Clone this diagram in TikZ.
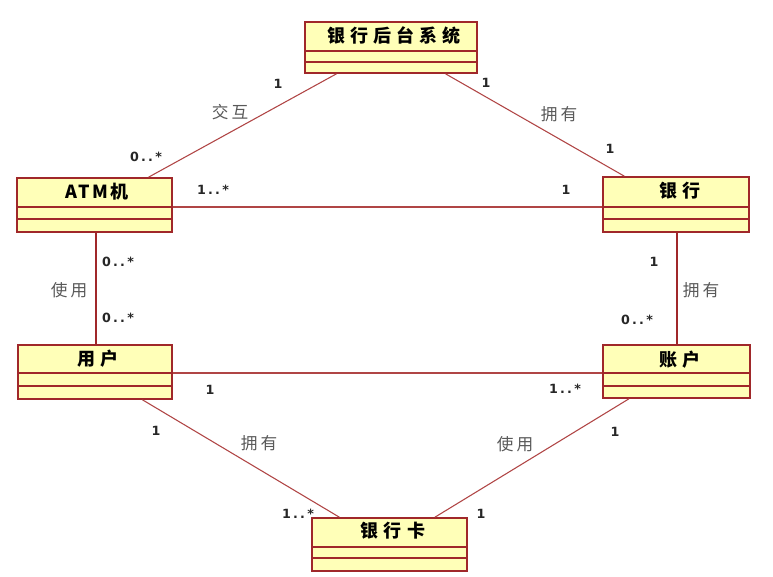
\documentclass[tikz,border=0pt]{standalone}
\usepackage{fontspec}
\usetikzlibrary{calc,fit}
\newfontfamily\titlefont[LetterSpace=28]{Noto Sans CJK SC}
\newfontfamily\titlefontB[LetterSpace=12]{Noto Sans CJK SC}
\newfontfamily\labfont[LetterSpace=18]{Noto Sans CJK SC}
\newfontfamily\mulfont[LetterSpace=18]{DejaVu Sans}
\definecolor{boxred}{HTML}{A0282A}
\definecolor{linered}{HTML}{B04545}
\definecolor{boxfill}{HTML}{FFFFB8}
\begin{document}
\begin{tikzpicture}[x=0.75pt,y=-0.75pt,
 cls/.style={draw=boxred, fill=boxfill, line width=1.2pt, inner sep=0pt},
 ttl/.style={font=\titlefont\bfseries\fontsize{13.5}{15}\selectfont, text=black, inner sep=0pt},
 comp/.style={draw=boxred, line width=0.9pt},
 assoc/.style={draw=linered, line width=0.8pt},
 assocv/.style={draw=boxred, line width=1.4pt},
 mult/.style={font=\mulfont\bfseries\fontsize{9.5}{11}\selectfont, text=black!85, inner sep=0pt},
 role/.style={font=\labfont\fontsize{12.5}{14}\selectfont, text=black!65, inner sep=0pt}]
\fill[white] (0,0) rectangle (773,577);
\useasboundingbox (0,0) rectangle (773,577);

\coordinate (c1) at (0,207);
\coordinate (c2) at (0,373);

% class boxes
\node[cls, fit={(305,22) (477,73)}] (sys) {};
\node[cls, fit={(17,178) (172,232)}] (atm) {};
\node[cls, fit={(603,177) (749,232)}] (bank) {};
\node[cls, fit={(18,345) (172,399)}] (user) {};
\node[cls, fit={(603,345) (750,398)}] (acct) {};
\node[cls, fit={(312,518) (467,571)}] (card) {};

% compartments
\draw[comp] (sys.west |- 0,51) -- (sys.east |- 0,51) (sys.west |- 0,62) -- (sys.east |- 0,62);
\draw[comp] (atm.west |- 0,207) -- (atm.east |- 0,207) (atm.west |- 0,219) -- (atm.east |- 0,219);
\draw[comp] (bank.west |- 0,207) -- (bank.east |- 0,207) (bank.west |- 0,219) -- (bank.east |- 0,219);
\draw[comp] (user.west |- 0,373) -- (user.east |- 0,373) (user.west |- 0,386) -- (user.east |- 0,386);
\draw[comp] (acct.west |- 0,373) -- (acct.east |- 0,373) (acct.west |- 0,386) -- (acct.east |- 0,386);
\draw[comp] (card.west |- 0,547) -- (card.east |- 0,547) (card.west |- 0,558) -- (card.east |- 0,558);

% titles
\node[ttl] (sysT) at (394,36) {银行后台系统};
\node[ttl, font=\titlefontB\bfseries\fontsize{13.5}{15}\selectfont] (atmT) at (97,192) {ATM机};
\node[ttl] (bankT) at (680,191) {银行};
\node[ttl] (userT) at (98,359) {用户};
\node[ttl] (acctT) at (680,360) {账户};
\node[ttl] (cardT) at (393,531) {银行卡};

% associations
\draw[assoc] ($(sys.south west)!0.186!(sys.south east)$) -- ($(atm.north west)!0.845!(atm.north east)$);
\draw[assoc] ($(sys.south west)!0.814!(sys.south east)$) -- ($(bank.north west)!0.15!(bank.north east)$);
\draw[assoc] (atm.east |- c1) -- (bank.west |- c1);
\draw[assocv] (atm.south -| 96,0) -- (user.north -| 96,0);
\draw[assocv] (bank.south -| 677,0) -- (acct.north -| 677,0);
\draw[assoc] (user.east |- c2) -- (acct.west |- c2);
\draw[assoc] ($(user.south west)!0.805!(user.south east)$) -- ($(card.north west)!0.18!(card.north east)$);
\draw[assoc] ($(acct.south west)!0.18!(acct.south east)$) -- ($(card.north west)!0.79!(card.north east)$);

% multiplicities
\node[mult] (m1) at (278,84) {1};
\node[mult] (m2) at (146,157) {0..*};
\node[mult] (m3) at (486,83) {1};
\node[mult] (m4) at (610,149) {1};
\node[mult] (m5) at (213,190) {1..*};
\node[mult] (m6) at (566,190) {1};
\node[mult] (m7) at (118,262) {0..*};
\node[mult] (m8) at (118,318) {0..*};
\node[mult] (m9) at (654,262) {1};
\node[mult] (m10) at (637,320) {0..*};
\node[mult] (m11) at (210,390) {1};
\node[mult] (m12) at (565,389) {1..*};
\node[mult] (m13) at (156,431) {1};
\node[mult] (m14) at (615,432) {1};
\node[mult] (m15) at (298,514) {1..*};
\node[mult] (m16) at (481,514) {1};

% role labels
\node[role] (r1) at (230,112) {交互};
\node[role] (r2) at (559,114) {拥有};
\node[role] (r3) at (69,290) {使用};
\node[role] (r4) at (701,290) {拥有};
\node[role] (r5) at (259,443) {拥有};
\node[role] (r6) at (515,444) {使用};
\end{tikzpicture}
\end{document}
